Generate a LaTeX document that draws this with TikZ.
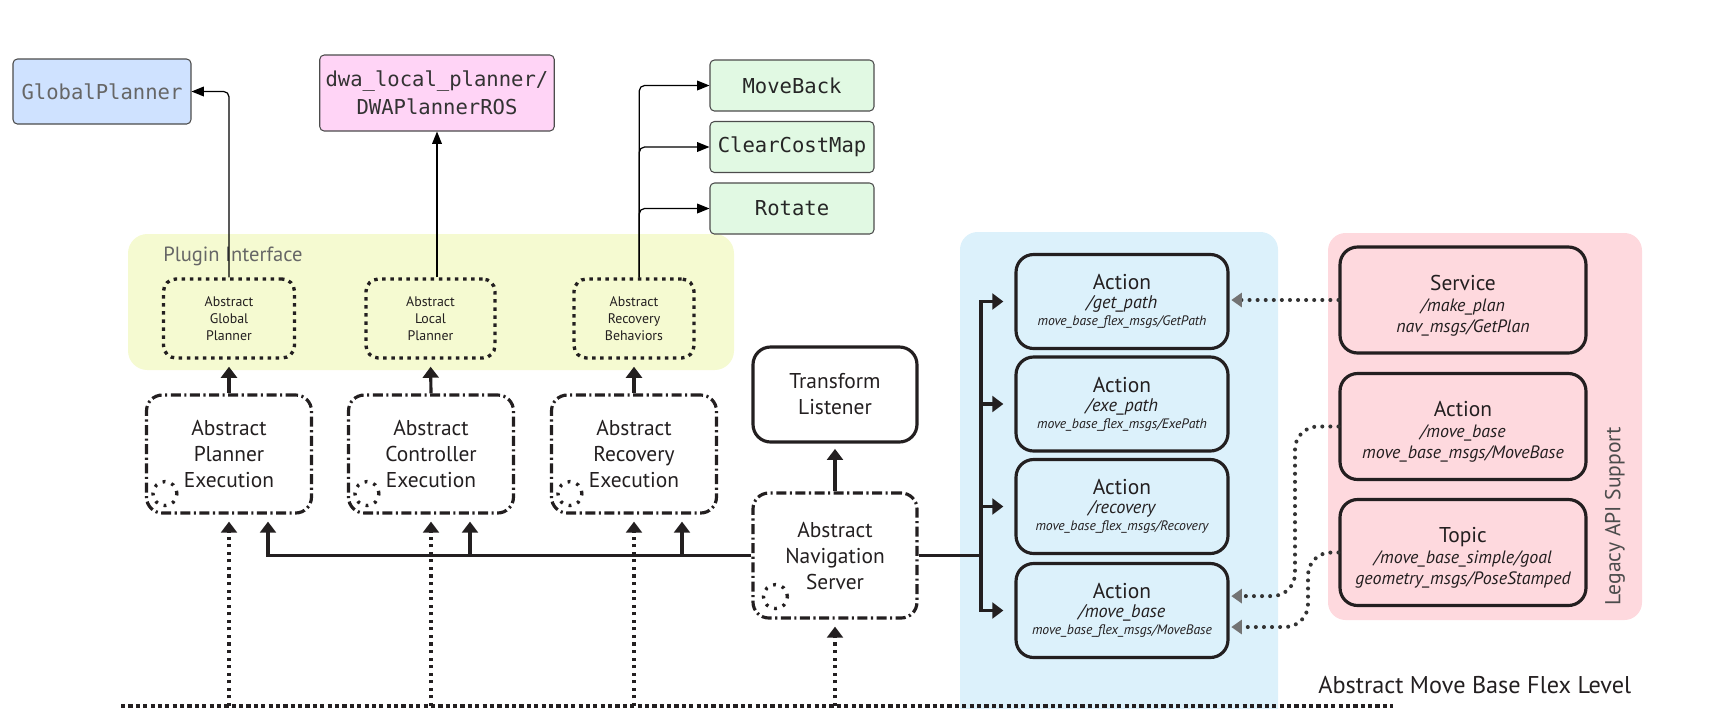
\documentclass[tikz,border=0pt]{standalone}
\usepackage{fontspec}
\setmainfont{PT Sans}
\setmonofont{DejaVu Sans Mono}
\usetikzlibrary{arrows.meta}

\definecolor{gpblue}{RGB}{207,226,255}
\definecolor{dwapink}{RGB}{255,212,246}
\definecolor{recgreen}{RGB}{225,249,227}
\definecolor{plugbg}{RGB}{245,250,209}
\definecolor{mbfbg}{RGB}{220,241,251}
\definecolor{legbg}{RGB}{254,217,222}
\definecolor{ink}{RGB}{35,31,32}

\newcommand{\legstrut}{\rule{0pt}{15pt}}

\tikzset{
  topbox/.style={draw=black!70, line width=0.6pt, rounded corners=2.5pt, align=center, font=\ttfamily\fontsize{11.7}{16}\selectfont},
  recbox/.style={topbox, fill=recgreen, text=black!85, minimum width=3.28cm, minimum height=1.02cm},
  ifbox/.style={draw=ink, line width=1.9pt, dash pattern=on 2pt off 2.6pt, rounded corners=7pt, minimum height=1.58cm, align=center, text=ink, font=\fontsize{7.9}{9.5}\selectfont},
  execbox/.style={draw=ink, line width=1.8pt, dash pattern=on 5.7pt off 2pt on 1.2pt off 2pt, rounded corners=9pt, minimum width=3.3cm, align=center, text=ink, font=\fontsize{12.2}{14.8}\selectfont},
  solidbox/.style={draw=ink, line width=1.8pt, rounded corners=10pt, align=center, text=ink, font=\fontsize{12.2}{14.8}\selectfont},
  actbox/.style={solidbox, minimum width=4.24cm, minimum height=1.88cm, font=\fontsize{12.2}{10.8}\selectfont},
  legbox/.style={solidbox, minimum width=4.92cm, minimum height=2.12cm, font=\fontsize{12.2}{12}\selectfont},
  spin/.style={circle, draw=ink, line width=1.9pt, dash pattern=on 1.6pt off 3.6pt, minimum size=0.48cm, inner sep=0pt},
  slimarrow/.style={-{Triangle[width=5.5pt,length=7pt]}, line width=0.7pt, draw=black},
  boldline/.style={line width=1.8pt, draw=ink},
  boldarrow/.style={boldline, -{Triangle[width=9pt,length=6.3pt]}, shorten >=4pt},
  dotarrow/.style={-{Triangle[width=9pt,length=6.3pt]}, line width=1.9pt, dash pattern=on 1.8pt off 2.5pt, draw=ink, shorten >=4pt},
  levelline/.style={line width=1.9pt, dash pattern=on 2.4pt off 1.8pt, draw=ink},
  legacy/.style={-{Triangle[width=8pt,length=6pt,color=black!55]}, line width=2.3pt, line cap=round, dash pattern=on 0pt off 4.6pt, draw=black!80, shorten >=1pt}
}

\begin{document}
\begin{tikzpicture}[x=0.02cm, y=-0.02cm]
\useasboundingbox (0,0) rectangle (1721,708);

\fill[plugbg, rounded corners=11pt] (128,234) rectangle (734,370);
\fill[mbfbg, rounded corners=10pt] (960,232) rectangle (1278,760);
\fill[legbg, rounded corners=10pt] (1328,233) rectangle (1642,620);

\node[anchor=base west, inner sep=0pt, text=black!60, font=\fontsize{11.7}{14}\selectfont] (PI) at (163,261) {Plugin Interface};

\node[topbox, fill=gpblue, text=black!60, minimum width=3.56cm, minimum height=1.3cm] (GP) at (102,91.5) {GlobalPlanner};
\node[topbox, fill=dwapink, text=black!80, minimum width=4.68cm, minimum height=1.52cm] (DWA) at (437,93) {dwa\_local\_planner/\\DWAPlannerROS};
\node[recbox] (MB) at (792,85.5) {MoveBack};
\node[recbox] (CCM) at (792,147) {ClearCostMap};
\node[recbox] (ROT) at (792,208.5) {Rotate};

\node[ifbox, minimum width=2.62cm] (AGP) at (229,318.5) {Abstract\\Global\\Planner};
\node[ifbox, minimum width=2.58cm] (ALP) at (430.5,318.5) {Abstract\\Local\\Planner};
\node[ifbox, minimum width=2.4cm] (ARB) at (634,318.5) {Abstract\\Recovery\\Behaviors};

\node[execbox, minimum height=2.36cm] (APE) at (229,454) {Abstract\\Planner\\Execution};
\node[execbox, minimum height=2.36cm] (ACE) at (431,454) {Abstract\\Controller\\Execution};
\node[execbox, minimum height=2.36cm] (ARE) at (634,454) {Abstract\\Recovery\\Execution};
\node[solidbox, minimum width=3.28cm, minimum height=1.9cm] (TL) at (835,394.5) {Transform\\Listener};
\node[execbox, minimum width=3.28cm, minimum height=2.5cm] (NAV) at (835,555.5) {Abstract\\Navigation\\Server};

\node[spin] (S1) at ([shift={(20,-21)}]APE.south west) {};
\node[spin] (S2) at ([shift={(20,-21)}]ACE.south west) {};
\node[spin] (S3) at ([shift={(20,-21)}]ARE.south west) {};
\node[spin] (S4) at ([shift={(24,-23)}]NAV.south west) {};

\node[actbox] (A1) at (1122,301.5) {Action\\{\itshape\fontsize{10.4}{12}\selectfont /get\_path}\\[-1.1pt]{\itshape\fontsize{7.8}{9}\selectfont move\_base\_flex\_msgs/GetPath}};
\node[actbox] (A2) at (1122,404) {Action\\{\itshape\fontsize{10.4}{12}\selectfont /exe\_path}\\[-1.1pt]{\itshape\fontsize{7.8}{9}\selectfont move\_base\_flex\_msgs/ExePath}};
\node[actbox] (A3) at (1122,506.5) {Action\\{\itshape\fontsize{10.4}{12}\selectfont /recovery}\\[-1.1pt]{\itshape\fontsize{7.8}{9}\selectfont move\_base\_flex\_msgs/Recovery}};
\node[actbox] (A4) at (1122,610.5) {Action\\{\itshape\fontsize{10.4}{12}\selectfont /move\_base}\\[-1.1pt]{\itshape\fontsize{7.8}{9}\selectfont move\_base\_flex\_msgs/MoveBase}};

\node[legbox] (L1) at (1463,300) {\legstrut Service\\{\itshape\fontsize{10.2}{12}\selectfont /make\_plan}\\{\itshape\fontsize{10.2}{12}\selectfont nav\_msgs/GetPlan}};
\node[legbox] (L2) at (1463,426.5) {\legstrut Action\\{\itshape\fontsize{10.2}{12}\selectfont /move\_base}\\{\itshape\fontsize{10.2}{12}\selectfont move\_base\_msgs/MoveBase}};
\node[legbox] (L3) at (1463,552.5) {\legstrut Topic\\{\itshape\fontsize{10.2}{12}\selectfont /move\_base\_simple/goal}\\{\itshape\fontsize{10.2}{12}\selectfont geometry\_msgs/PoseStamped}};

\node[rotate=90, text=black!70, font=\fontsize{12.3}{14}\selectfont] (LAPI) at (1615,516) {Legacy API Support};
\node[anchor=base west, inner sep=0pt, text=ink, font=\fontsize{13.8}{16}\selectfont] (LVL) at (1318,693) {Abstract Move Base Flex Level};

\coordinate (RB) at ([xshift=3pt]ARB.north);
\draw[slimarrow, rounded corners=3pt] (AGP.north) |- (GP.east);
\draw[slimarrow] (DWA.south |- ALP.north) -- (DWA.south);
\draw[slimarrow, rounded corners=3pt] (RB) |- (MB.west);
\draw[slimarrow, rounded corners=3pt] (RB) |- (CCM.west);
\draw[slimarrow, rounded corners=3pt] (RB) |- (ROT.west);

\draw[boldarrow] (APE.north) -- (AGP.south);
\draw[boldarrow] (ACE.north) -- (ALP.south);
\draw[boldarrow] (ARE.north) -- (ARB.south);
\draw[boldarrow, shorten >=3pt] (NAV.north) -- (TL.south);

\coordinate (B1) at (268,555.5);
\coordinate (B2) at (470,555.5);
\coordinate (B3) at (682,555.5);
\draw[boldarrow] (NAV.west) -| (B1 |- APE.south);
\draw[boldarrow] (B2) -- (B2 |- ACE.south);
\draw[boldarrow] (B3) -- (B3 |- ARE.south);

\coordinate (TR) at (981,555.5);
\draw[boldline] (NAV.east) -- (TR);
\draw[boldarrow, shorten >=6.3pt] (TR) |- (A1.west);
\draw[boldarrow, shorten >=6.3pt] (TR) |- (A2.west);
\draw[boldarrow, shorten >=6.3pt] (TR) |- (A3.west);
\draw[boldarrow, shorten >=6.3pt] (TR) |- (A4.west);

\coordinate (LV) at (121,706);
\coordinate (LVE) at (1393,706);
\draw[levelline] (LV) -- (LVE);
\draw[dotarrow] (APE.south |- LV) -- (APE.south);
\draw[dotarrow] (ACE.south |- LV) -- (ACE.south);
\draw[dotarrow] (ARE.south |- LV) -- (ARE.south);
\draw[dotarrow] (NAV.south |- LV) -- (NAV.south);

\coordinate (A4U) at ([yshift=8.2pt]A4.east);
\coordinate (A4D) at ([yshift=-9.4pt]A4.east);
\coordinate (K2) at (1295,0);
\coordinate (K3) at (1308,0);
\draw[legacy] (L1.west) -- (L1.west -| A1.east);
\draw[legacy, rounded corners=13pt] (L2.west) -| (K2 |- A4U) -- (A4U);
\draw[legacy, rounded corners=13pt] (L3.west) -| (K3 |- A4D) -- (A4D);
\end{tikzpicture}
\end{document}
